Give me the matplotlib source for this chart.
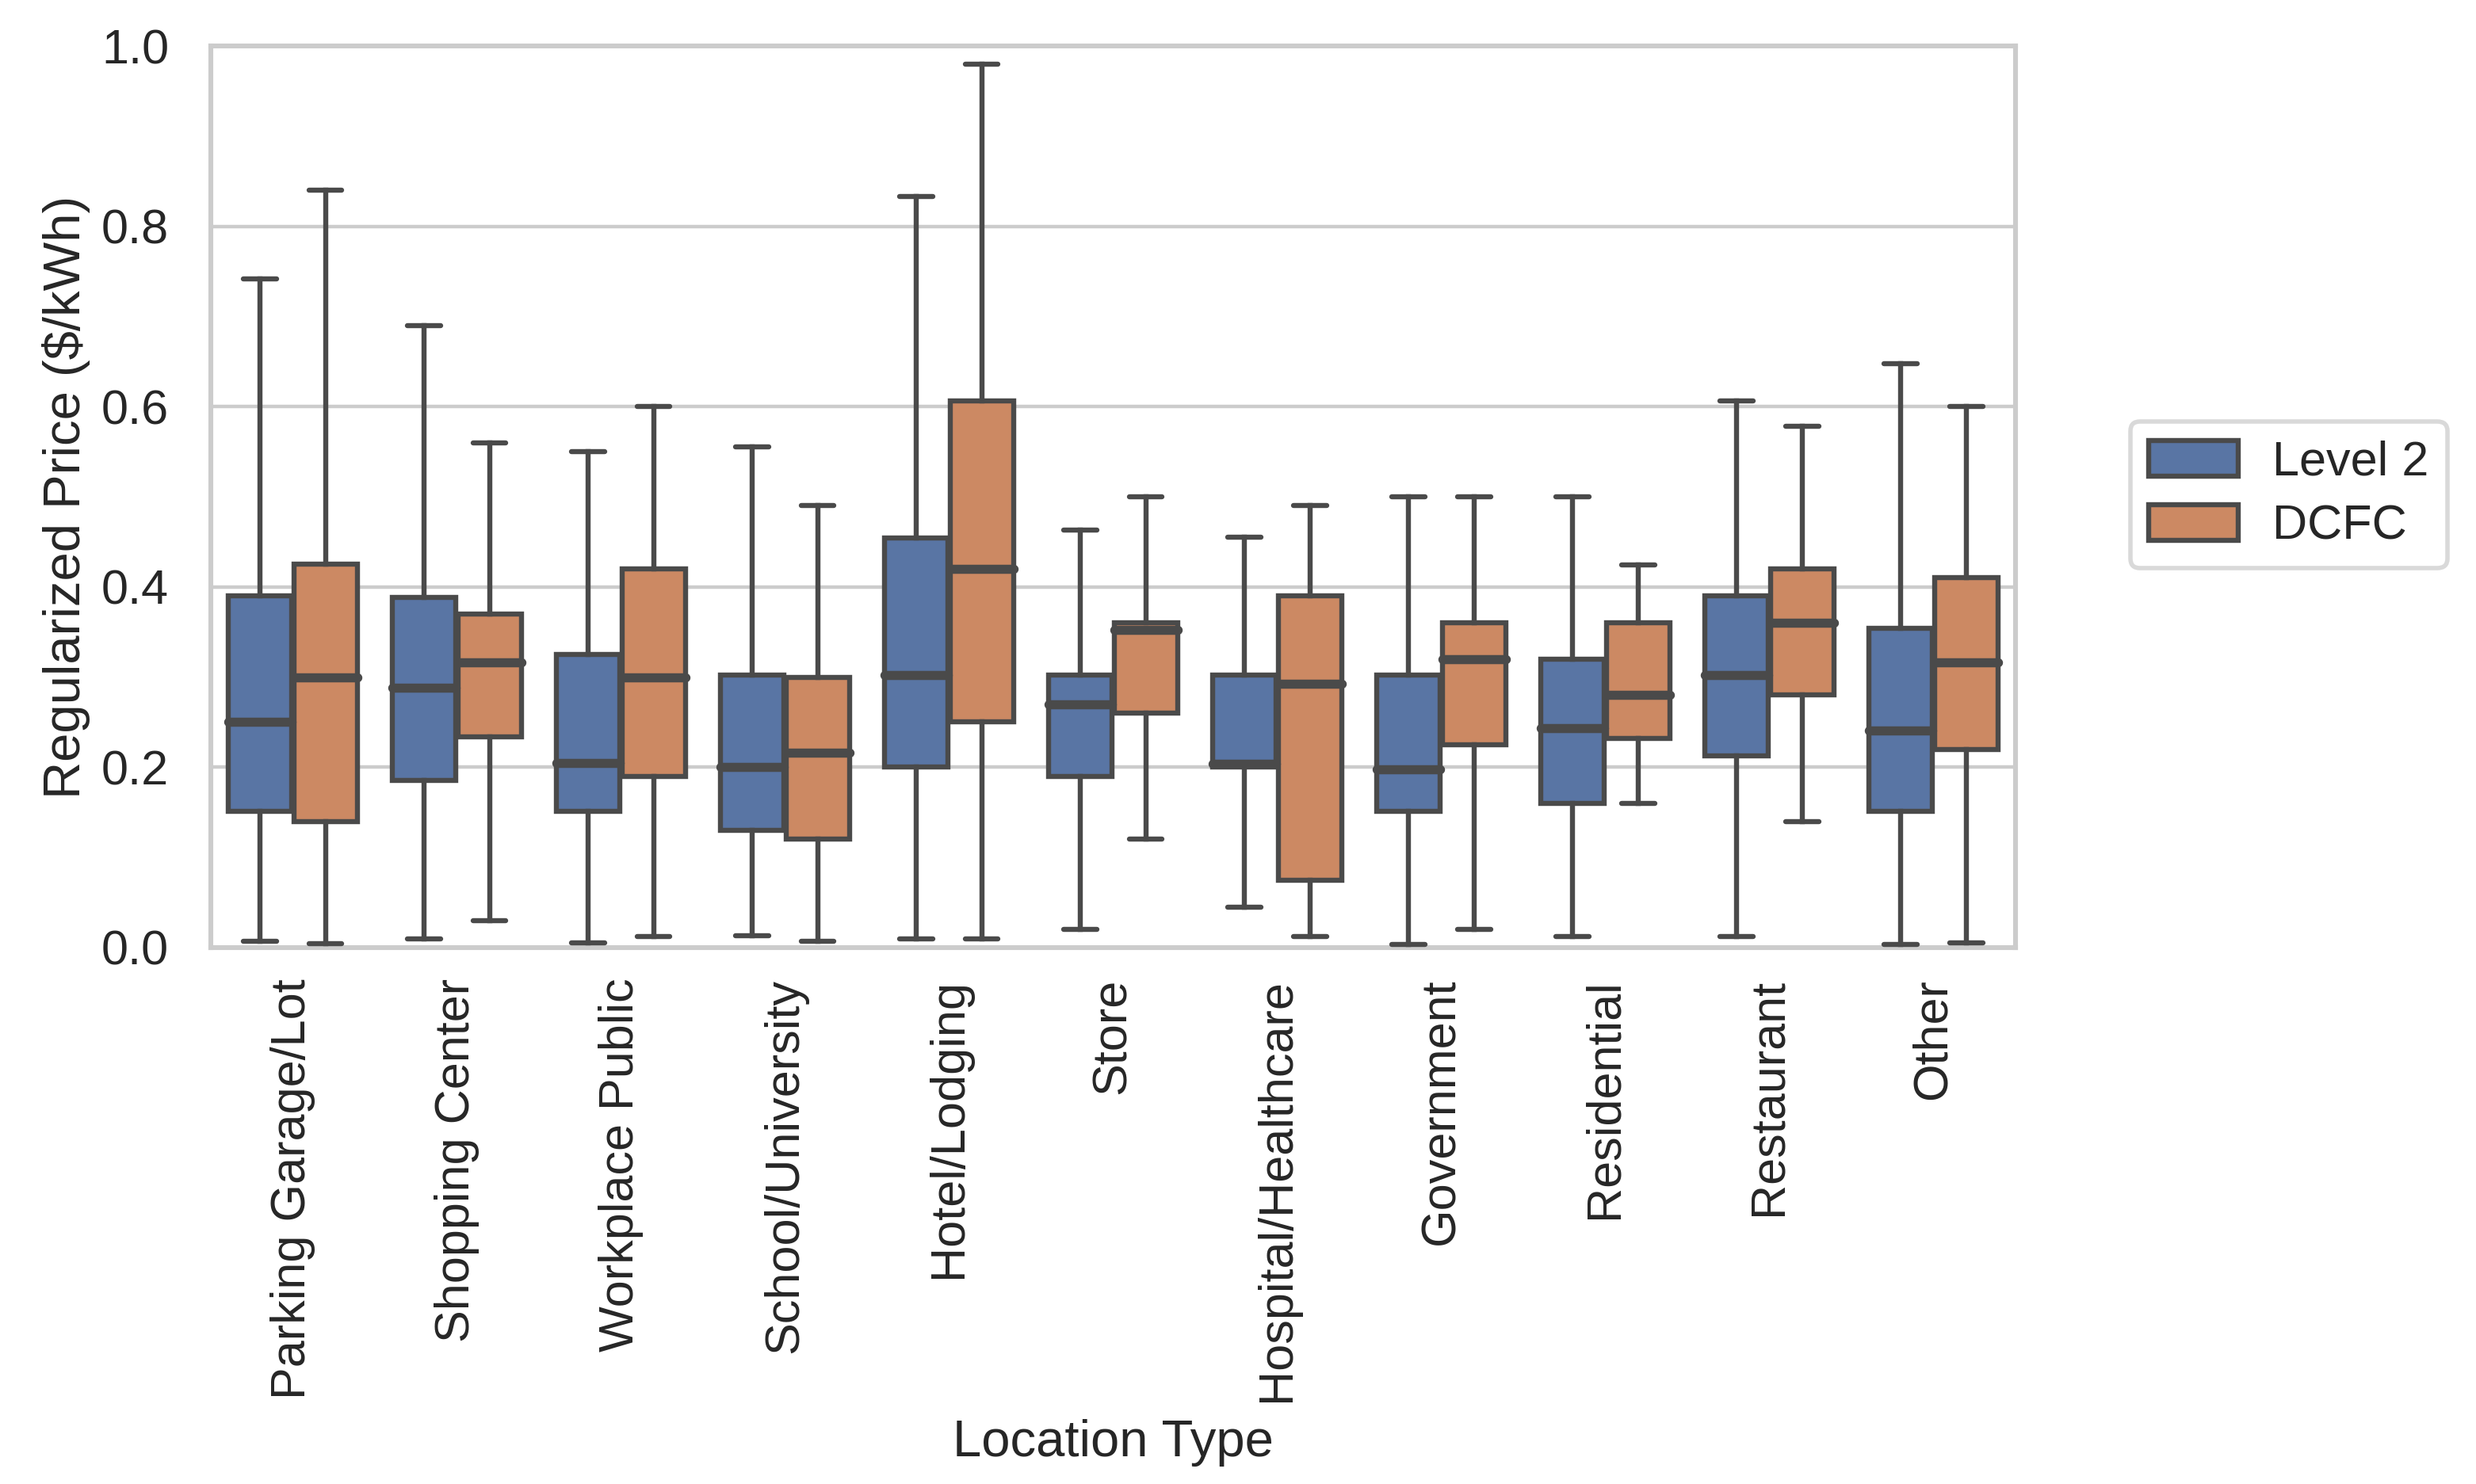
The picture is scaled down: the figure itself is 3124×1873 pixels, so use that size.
import matplotlib
matplotlib.use("Agg")
import matplotlib.pyplot as plt
from matplotlib.patches import Patch

plt.rcParams['font.family'] = ['Liberation Sans', 'DejaVu Sans']

categories = ["Parking Garage/Lot", "Shopping Center", "Workplace Public",
              "School/University", "Hotel/Lodging", "Store", "Hospital/Healthcare",
              "Government", "Residential", "Restaurant", "Other"]
series_names = ["Level 2", "DCFC"]

# [whislo, q1, median, q3, whishi]
level2 = [
    [0.007, 0.151, 0.250, 0.390, 0.742],
    [0.010, 0.185, 0.288, 0.388, 0.690],
    [0.005, 0.151, 0.205, 0.325, 0.550],
    [0.013, 0.130, 0.200, 0.302, 0.555],
    [0.010, 0.200, 0.302, 0.454, 0.833],
    [0.020, 0.190, 0.270, 0.302, 0.463],
    [0.045, 0.200, 0.204, 0.302, 0.455],
    [0.003, 0.151, 0.198, 0.302, 0.500],
    [0.012, 0.160, 0.243, 0.320, 0.500],
    [0.012, 0.213, 0.302, 0.390, 0.606],
    [0.003, 0.151, 0.241, 0.354, 0.648],
]
dcfc = [
    [0.004, 0.140, 0.300, 0.425, 0.840],
    [0.030, 0.234, 0.316, 0.370, 0.560],
    [0.012, 0.190, 0.300, 0.420, 0.600],
    [0.007, 0.120, 0.216, 0.300, 0.490],
    [0.010, 0.250, 0.420, 0.606, 0.980],
    [0.120, 0.260, 0.352, 0.360, 0.500],
    [0.012, 0.075, 0.293, 0.390, 0.490],
    [0.020, 0.225, 0.320, 0.360, 0.500],
    [0.160, 0.232, 0.280, 0.360, 0.424],
    [0.140, 0.280, 0.360, 0.420, 0.578],
    [0.005, 0.220, 0.316, 0.410, 0.600],
]

colors = ["#5975A4", "#CC8963"]
edge = "#4a4a4a"
fs_tick = 22
fs_label = 23.5

fig = plt.figure(figsize=(15.62, 9.365), dpi=200)
ax = fig.add_axes([0.0851, 0.3615, 0.7289, 0.6075])

def stats(rows):
    out = []
    for r in rows:
        out.append(dict(whislo=r[0], q1=r[1], med=r[2], q3=r[3], whishi=r[4], fliers=[]))
    return out

lw = 2.3
for k, (data, col) in enumerate(zip([level2, dcfc], colors)):
    offs = -0.2 if k == 0 else 0.2
    pos = [i + offs for i in range(len(categories))]
    bp = ax.bxp(stats(data), positions=pos, widths=0.385, patch_artist=True,
                showfliers=False, manage_ticks=False,
                boxprops=dict(facecolor=col, edgecolor=edge, linewidth=lw),
                medianprops=dict(color=edge, linewidth=lw * 1.8, solid_capstyle='round'),
                whiskerprops=dict(color=edge, linewidth=lw),
                capprops=dict(color=edge, linewidth=lw, solid_capstyle='round'),
                zorder=3)
    for c in bp['caps']:
        x = c.get_xdata()
        m = (x[0] + x[1]) / 2
        c.set_xdata([m - 0.1, m + 0.1])

ax.set_xlim(-0.5, len(categories) - 0.5)
ax.set_ylim(0, 1.0)
ax.set_yticks([0.0, 0.2, 0.4, 0.6, 0.8, 1.0])
ax.set_yticklabels(["0.0", "0.2", "0.4", "0.6", "0.8", "1.0"])
ax.set_xticks(range(len(categories)))
ax.set_xticklabels(categories, rotation=90)
ax.tick_params(axis='both', labelsize=fs_tick, length=0, colors="#262626")
ax.tick_params(axis='x', pad=14)
ax.tick_params(axis='y', pad=19)
ax.grid(axis='y', color="#cccccc", linewidth=1.6, zorder=0)
ax.set_axisbelow(True)
for s in ax.spines.values():
    s.set_color("#cccccc")
    s.set_linewidth(2.2)
ax.set_xlabel("Location Type", fontsize=fs_label, color="#262626", labelpad=8)
ax.set_ylabel("Regularized Price ($/kWh)", fontsize=fs_label, color="#262626", labelpad=5)

handles = [Patch(facecolor=c, edgecolor=edge, linewidth=lw, label=n)
           for c, n in zip(colors, series_names)]
leg = ax.legend(handles=handles, loc='center left', bbox_to_anchor=(1.053, 0.502),
                fontsize=fs_tick, frameon=True, handlelength=1.85, handleheight=0.75,
                borderpad=0.38, labelspacing=0.4, handletextpad=0.7,
                borderaxespad=0.4, fancybox=True)
leg.get_frame().set_edgecolor("#d0d0d0")
leg.get_frame().set_linewidth(2.0)
for t in leg.get_texts():
    t.set_color("#262626")

fig.savefig("out.png", dpi=200)
